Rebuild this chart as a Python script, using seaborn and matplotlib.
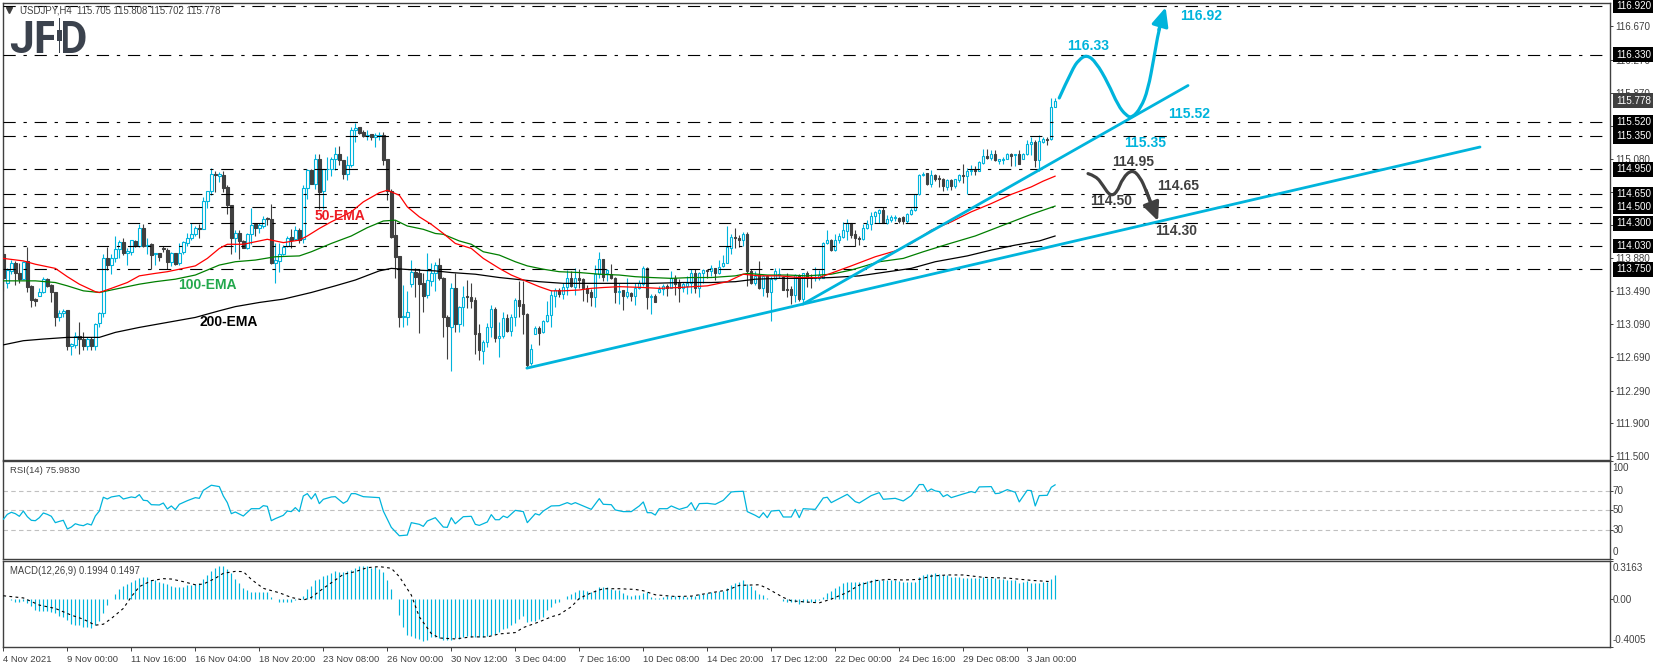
import numpy as np
import matplotlib
matplotlib.use('Agg')
import matplotlib.pyplot as plt
from matplotlib.path import Path
from matplotlib.patches import PathPatch, Rectangle
import seaborn as sns

sns.set_style('white')
plt.rcParams['font.family'] = ['Liberation Sans', 'DejaVu Sans']

CYAN = '#00b4dc'
DARK = '#404040'

# USDJPY H4 candles, one value per bar
opens = [
    113.93,113.59,113.73,113.82,113.70,113.63,113.85,113.55,113.39,113.43,
    113.47,113.63,113.56,113.47,113.18,113.22,113.26,112.83,112.84,112.95,
    112.91,112.83,112.91,112.83,113.10,113.22,113.89,113.80,113.89,113.99,
    114.08,113.95,113.96,114.09,114.03,114.25,114.03,114.05,113.93,113.95,
    114.00,113.98,113.84,113.94,113.82,113.96,114.07,114.12,114.17,114.25,
    114.23,114.57,114.69,114.89,114.87,114.88,114.74,114.52,114.12,114.18,
    114.09,114.01,114.17,114.29,114.25,114.27,114.37,114.35,113.83,113.85,
    113.93,114.03,114.14,114.11,114.22,114.11,114.73,114.94,114.78,115.07,
    114.69,114.95,114.96,115.07,115.14,115.06,114.89,115.00,115.43,115.46,
    115.40,115.35,115.38,115.34,115.35,115.36,115.07,114.69,114.16,113.91,
    113.17,113.18,113.57,113.72,113.70,113.58,113.44,113.61,113.70,113.80,
    113.65,113.17,113.06,113.52,113.09,113.29,113.43,113.42,113.38,112.98,
    112.77,112.87,113.05,113.27,112.92,112.95,113.16,113.01,113.18,113.38,
    113.33,113.21,112.62,112.97,113.04,112.99,113.13,113.20,113.43,113.50,
    113.45,113.54,113.64,113.54,113.65,113.63,113.52,113.47,113.41,113.69,
    113.87,113.71,113.69,113.65,113.48,113.50,113.43,113.46,113.43,113.52,
    113.57,113.77,113.41,113.43,113.47,113.51,113.55,113.53,113.64,113.58,
    113.52,113.55,113.58,113.70,113.53,113.70,113.74,113.73,113.76,113.71,
    113.79,113.83,114.01,114.14,114.12,114.10,114.17,113.73,113.59,113.68,
    113.52,113.67,113.47,113.63,113.68,113.66,113.51,113.51,113.44,113.68,
    113.39,113.70,113.66,113.65,113.65,113.65,114.07,114.10,113.98,114.10,
    114.14,114.21,114.30,114.17,114.12,114.11,114.24,114.29,114.39,114.43,
    114.46,114.31,114.34,114.37,114.37,114.38,114.33,114.41,114.46,114.65,
    114.88,114.91,114.77,114.88,114.85,114.84,114.74,114.82,114.75,114.82,
    114.88,114.87,114.93,114.94,114.93,115.03,115.11,115.09,115.14,115.05,
    115.06,115.08,115.14,115.12,115.14,115.08,115.13,115.26,115.28,115.06,
    115.28,115.32,115.32,115.705]
highs = [
    114.02,113.76,113.86,113.85,113.82,113.85,114.02,113.56,113.40,113.52,
    113.66,113.65,113.57,113.48,113.26,113.27,113.26,112.86,113.00,113.11,
    113.00,112.94,112.93,113.10,113.23,113.93,114.02,113.93,114.15,114.10,
    114.13,114.00,114.10,114.10,114.29,114.29,114.12,114.06,113.95,113.95,
    114.03,114.01,113.96,113.95,114.06,114.09,114.18,114.30,114.27,114.29,
    114.62,114.69,114.97,114.93,114.92,114.93,114.76,114.52,114.22,114.22,
    114.10,114.19,114.49,114.31,114.30,114.39,114.38,114.53,114.06,114.06,
    114.04,114.15,114.23,114.27,114.25,114.76,114.95,114.95,115.14,115.14,
    114.96,115.10,115.10,115.22,115.23,115.06,115.11,115.46,115.51,115.46,
    115.43,115.42,115.38,115.39,115.40,115.40,115.07,114.71,114.34,113.91,
    113.56,113.49,113.86,113.76,113.75,113.70,113.95,113.82,113.84,113.88,
    113.66,113.20,113.59,113.71,113.31,113.55,113.62,113.58,113.42,113.09,
    112.90,113.10,113.32,113.29,113.12,113.23,113.21,113.21,113.40,113.61,
    113.61,113.22,112.85,113.07,113.07,113.14,113.37,113.50,113.53,113.52,
    113.58,113.74,113.73,113.76,113.75,113.65,113.56,113.51,113.80,113.96,
    113.87,113.75,113.81,113.66,113.59,113.50,113.65,113.47,113.58,113.62,
    113.79,113.78,113.45,113.45,113.55,113.57,113.57,113.73,113.68,113.63,
    113.60,113.67,113.75,113.75,113.72,113.75,113.75,113.80,113.77,113.86,
    113.92,114.27,114.17,114.25,114.16,114.20,114.20,113.75,113.73,113.85,
    113.68,113.68,113.67,113.76,113.76,113.67,113.70,113.55,113.69,113.69,
    113.71,113.73,113.69,113.78,113.74,114.08,114.22,114.11,114.17,114.19,
    114.32,114.36,114.31,114.22,114.15,114.29,114.34,114.44,114.45,114.47,
    114.50,114.40,114.40,114.40,114.38,114.39,114.43,114.49,114.66,114.89,
    114.92,114.91,114.94,114.89,114.88,114.85,114.84,114.83,114.84,114.90,
    115.02,114.97,115.00,114.99,115.05,115.20,115.20,115.18,115.18,115.08,
    115.10,115.15,115.15,115.14,115.19,115.15,115.30,115.34,115.31,115.36,
    115.34,115.34,115.81,115.808]
lows = [
    113.49,113.53,113.69,113.56,113.59,113.63,113.48,113.29,113.31,113.43,
    113.46,113.54,113.35,113.07,113.13,113.17,112.78,112.72,112.80,112.73,
    112.78,112.78,112.78,112.78,113.06,113.18,113.74,113.69,113.84,113.88,
    113.92,113.80,113.92,114.02,114.02,114.02,113.93,113.75,113.80,113.85,
    113.96,113.75,113.79,113.80,113.80,113.93,114.03,114.10,114.15,114.12,
    114.23,114.49,114.64,114.68,114.80,114.68,114.42,113.93,113.96,113.87,
    114.00,113.99,114.05,114.15,114.18,114.24,114.28,113.81,113.58,113.72,
    113.92,114.02,114.00,114.10,114.06,114.06,114.60,114.78,114.72,114.48,
    114.48,114.82,114.87,114.94,115.00,114.84,114.82,114.98,115.28,115.38,
    115.34,115.30,115.30,115.22,115.31,115.00,114.58,114.12,113.64,113.06,
    113.05,113.08,113.54,113.42,112.98,113.23,113.40,113.55,113.49,113.62,
    112.94,112.67,112.52,112.99,113.00,113.07,113.28,113.28,112.73,112.66,
    112.61,112.81,112.94,112.87,112.70,112.92,112.99,112.95,113.07,113.18,
    112.97,112.56,112.60,112.97,112.84,112.98,113.12,113.06,113.30,113.42,
    113.39,113.44,113.54,113.44,113.52,113.37,113.35,113.31,113.30,113.64,
    113.61,113.61,113.63,113.34,113.33,113.26,113.40,113.37,113.32,113.51,
    113.55,113.27,113.21,113.35,113.46,113.44,113.43,113.53,113.44,113.35,
    113.47,113.45,113.46,113.46,113.42,113.59,113.64,113.67,113.62,113.69,
    113.78,113.82,113.93,114.00,114.02,114.03,113.55,113.57,113.56,113.51,
    113.43,113.41,113.13,113.62,113.65,113.50,113.42,113.33,113.36,113.37,
    113.34,113.54,113.53,113.61,113.62,113.65,114.05,113.97,113.97,114.07,
    114.13,114.10,114.13,114.03,114.04,114.10,114.23,114.22,114.31,114.31,
    114.30,114.29,114.32,114.33,114.31,114.29,114.30,114.40,114.45,114.64,
    114.87,114.76,114.74,114.81,114.74,114.69,114.70,114.70,114.73,114.80,
    114.79,114.65,114.88,114.88,114.93,115.02,115.08,115.06,115.05,115.01,
    115.01,115.07,114.99,114.99,115.02,115.07,115.12,115.12,114.98,114.93,
    115.27,115.24,115.31,115.702]
closes = [
    113.64,113.74,113.82,113.70,113.63,113.84,113.54,113.38,113.37,113.47,
    113.63,113.55,113.47,113.18,113.22,113.25,112.83,112.85,112.95,112.91,
    112.83,112.91,112.83,113.09,113.22,113.89,113.80,113.89,113.99,114.08,
    113.95,113.97,114.10,114.03,114.25,114.03,114.04,113.92,113.95,113.90,
    113.99,113.84,113.94,113.81,113.95,114.08,114.12,114.17,114.25,114.23,
    114.57,114.69,114.89,114.88,114.89,114.73,114.52,114.12,114.18,114.09,
    114.01,114.17,114.28,114.25,114.28,114.36,114.35,113.82,113.86,113.93,
    114.02,114.13,114.10,114.22,114.10,114.73,114.94,114.78,115.07,114.68,
    114.95,114.96,115.07,115.13,115.06,114.89,115.00,115.43,115.45,115.39,
    115.35,115.37,115.34,115.36,115.36,115.06,114.69,114.14,113.90,113.18,
    113.19,113.24,113.72,113.66,113.57,113.43,113.62,113.70,113.80,113.65,
    113.17,113.07,113.52,113.09,113.29,113.42,113.42,113.37,112.97,112.78,
    112.88,113.05,113.27,112.92,112.95,113.16,113.01,113.18,113.38,113.31,
    113.21,112.60,112.79,113.04,112.98,113.13,113.20,113.44,113.50,113.45,
    113.54,113.64,113.55,113.65,113.62,113.52,113.46,113.41,113.69,113.87,
    113.66,113.74,113.64,113.47,113.49,113.43,113.47,113.43,113.53,113.58,
    113.76,113.41,113.43,113.36,113.51,113.55,113.52,113.64,113.57,113.52,
    113.57,113.59,113.70,113.53,113.71,113.74,113.73,113.76,113.70,113.78,
    113.83,114.02,114.14,114.12,114.10,114.17,113.73,113.59,113.67,113.52,
    113.67,113.47,113.63,113.73,113.69,113.50,113.50,113.44,113.68,113.39,
    113.70,113.65,113.65,113.66,113.68,114.07,114.10,113.98,114.10,114.15,
    114.22,114.30,114.16,114.12,114.11,114.24,114.29,114.39,114.44,114.46,
    114.31,114.35,114.38,114.38,114.33,114.33,114.42,114.46,114.65,114.88,
    114.90,114.77,114.88,114.83,114.84,114.75,114.82,114.75,114.83,114.88,
    114.87,114.93,114.94,114.93,115.04,115.11,115.09,115.14,115.06,115.07,
    115.08,115.14,115.11,115.14,115.02,115.14,115.26,115.28,115.06,115.29,
    115.32,115.31,115.70,115.778]

# moving averages, read at the bars where they bend
ema50_bars = [0,5,8,13,16,19,23,24,27,31,34,38,41,44,48,51,54,56,60,63,66,70,74,76,79,82,87,90,94,96,99,101,104,107,110,113,117,120,124,127,130,134,137,140,144,147,150,154,160,164,169,176,181,185,189,194,199,204,208,212,218,223,227,232,237,242,247,252,257,260,263]
ema50_vals = [113.88,113.85,113.81,113.76,113.66,113.57,113.48,113.47,113.52,113.59,113.67,113.70,113.72,113.75,113.79,113.88,114.00,114.05,114.05,114.08,114.11,114.07,114.10,114.15,114.24,114.32,114.44,114.56,114.67,114.70,114.64,114.50,114.38,114.29,114.18,114.06,114.00,113.88,113.76,113.68,113.62,113.54,113.49,113.49,113.50,113.52,113.53,113.54,113.53,113.52,113.53,113.55,113.60,113.69,113.67,113.67,113.65,113.65,113.72,113.79,113.90,113.97,114.06,114.22,114.32,114.44,114.54,114.65,114.74,114.81,114.87]
ema100_bars = [0,3,8,13,16,20,24,28,31,34,38,43,48,51,54,58,63,68,74,77,82,87,91,95,98,101,105,108,110,114,117,120,124,128,131,135,139,144,149,154,158,162,167,172,177,183,186,191,196,201,207,212,219,225,230,236,243,250,257,263]
ema100_vals = [113.61,113.61,113.61,113.59,113.55,113.49,113.47,113.51,113.54,113.57,113.60,113.63,113.68,113.74,113.80,113.84,113.86,113.90,113.91,113.96,114.06,114.15,114.25,114.33,114.34,114.27,114.23,114.18,114.17,114.09,114.05,113.96,113.92,113.84,113.79,113.75,113.72,113.71,113.69,113.68,113.66,113.65,113.64,113.65,113.65,113.67,113.70,113.68,113.68,113.67,113.69,113.74,113.84,113.88,113.96,114.05,114.15,114.28,114.41,114.51]
ema200_bars = [0,5,10,16,24,28,34,41,48,54,58,64,70,77,83,88,94,97,103,108,112,118,124,130,134,140,149,162,170,177,183,188,194,201,207,214,227,233,241,247,253,259,263]
ema200_vals = [112.84,112.89,112.91,112.93,112.93,112.99,113.05,113.11,113.17,113.25,113.30,113.35,113.39,113.47,113.55,113.62,113.73,113.76,113.74,113.73,113.71,113.69,113.65,113.62,113.60,113.58,113.58,113.58,113.59,113.59,113.60,113.63,113.64,113.64,113.65,113.67,113.76,113.84,113.91,113.98,114.04,114.09,114.15]

rsi_bars = [0,1,2,3,4,5,6,7,8,9,10,11,12,13,14,15,16,17,18,19,20,21,22,23,24,25,26,27,29,30,32,33,34,35,36,37,39,40,41,42,43,44,46,48,49,50,52,54,55,56,57,58,60,62,64,65,66,67,68,70,71,72,73,74,75,76,77,78,79,80,82,83,85,86,87,88,90,94,95,97,99,101,102,104,105,106,108,110,111,112,113,115,117,118,119,121,122,123,124,125,126,128,130,131,133,134,
            135,137,139,141,142,143,145,147,149,150,152,153,155,157,159,160,161,162,163,164,166,167,169,171,172,173,174,176,178,180,182,183,185,186,188,189,190,191,192,194,195,197,198,199,200,203,205,206,207,211,213,214,217,219,220,223,225,227,229,230,231,232,233,234,235,236,237,240,242,243,244,247,248,249,251,253,254,256,257,258,259,261,262,263]
rsi_vals = [40.6,45.7,47.8,46.4,43.7,49.1,43.3,39.6,39.2,42.3,47.1,45.7,43.7,37.2,38.5,39.6,30.7,32.7,36.1,34.8,34.1,36.1,34.8,44.0,49.1,63.2,61.4,63.5,64.9,61.4,63.5,62.8,65.9,60.1,59.7,55.6,55.3,57.3,51.2,54.3,50.5,56.0,59.7,62.8,62.1,70.3,75.5,74.1,64.5,57.7,46.4,48.1,44.0,51.5,51.5,54.6,53.9,39.2,41.3,44.7,49.1,48.5,52.6,48.5,64.5,66.9,61.4,66.9,56.7,61.1,63.5,63.8,57.0,59.4,66.9,66.9,63.8,62.8,49.1,32.4,23.8,24.5,37.2,35.5,33.4,38.9,42.3,32.7,32.4,42.3,36.1,43.3,43.7,35.5,34.4,37.9,45.4,40.2,40.2,44.0,42.3,49.8,48.5,37.2,46.4,45.0,
            49.1,54.3,54.6,57.7,56.0,57.7,54.3,50.8,61.8,56.0,55.6,50.2,48.5,48.5,54.3,58.4,47.4,47.4,45.0,51.5,51.5,54.3,50.8,53.2,57.7,49.8,56.7,57.0,56.0,60.1,68.6,69.0,69.3,48.5,44.7,42.3,47.4,42.3,49.1,49.8,43.0,43.0,50.8,42.3,51.5,50.8,62.5,63.2,57.7,66.2,58.7,57.3,64.9,67.9,61.1,62.1,59.4,64.9,76.2,76.2,69.0,71.7,69.7,69.0,63.8,65.9,62.8,66.6,69.0,67.9,73.8,74.1,66.9,67.3,71.0,68.3,58.4,70.3,70.0,54.3,64.9,65.2,73.4,75.98]

macd_hist = [
    .025,0,-.011,-.022,-.028,-.017,-.036,-.059,-.087,-.098,
    -.098,-.098,-.104,-.115,-.140,-.148,-.176,-.207,-.213,-.216,
    -.232,-.235,-.238,-.213,-.185,-.115,-.053,0,.039,.081,
    .112,.123,.146,.160,.179,.182,.182,.160,.160,.146,
    .137,.123,.112,.098,.101,.104,.115,.118,.123,.137,
    .165,.199,.238,.258,.274,.277,.255,.221,.165,.132,
    .090,.076,.062,.059,.059,.059,.059,.014,0,-.022,
    -.028,-.028,-.025,-.008,0,.025,.081,.112,.157,.165,
    .193,.202,.221,.232,.230,.227,.238,.244,.263,.280,
    .280,.280,.263,.266,.249,.227,.160,.081,0,-.129,
    -.232,-.297,-.311,-.325,-.330,-.353,-.344,-.319,-.314,-.322,
    -.339,-.344,-.339,-.328,-.330,-.319,-.311,-.314,-.316,-.319,
    -.319,-.311,-.300,-.288,-.277,-.252,-.244,-.216,-.196,-.168,
    -.140,-.190,-.185,-.182,-.168,-.146,-.092,-.070,-.036,-.022,
    0,.025,.042,.059,.073,.073,.067,.056,.076,.098,
    .098,.098,.087,.078,.073,.053,.034,.028,.034,.036,
    .048,.056,.017,.011,.011,.017,.025,.022,.025,.025,
    .022,.020,.028,.025,.039,.042,.050,.056,.059,.067,
    .070,.090,.120,.132,.143,.157,.123,.109,.076,.039,
    .036,.006,0,0,0,-.017,-.020,-.028,-.025,-.045,
    -.028,-.022,-.022,-.020,-.008,.020,.050,.067,.092,.112,
    .137,.140,.140,.140,.143,.140,.148,.157,.165,.160,
    .160,.160,.157,.157,.154,.143,.143,.146,.146,.182,
    .199,.210,.213,.216,.210,.199,.199,.188,.182,.182,
    .176,.174,.176,.176,.176,.182,.176,.176,.174,.168,
    .165,.162,.160,.157,.137,.143,.154,.137,.134,.137,
    .143,.143,.171,.199]
signal_bars = [0,5,9,13,17,20,23,25,27,30,32,34,37,40,42,45,48,50,53,55,58,60,62,65,69,72,75,77,80,83,85,88,91,94,97,99,102,104,107,109,113,117,121,124,128,130,134,137,139,142,144,147,150,154,158,160,163,168,172,176,181,184,189,191,195,197,201,204,207,211,214,218,221,225,229,232,236,240,245,251,257,262]
signal_vals = [.028,.010,-.050,-.078,-.134,-.168,-.218,-.210,-.162,-.078,.020,.104,.154,.171,.168,.146,.120,.126,.174,.216,.232,.230,.165,.090,.053,.014,-.008,.014,.090,.160,.207,.230,.263,.272,.258,.188,.034,-.148,-.288,-.325,-.333,-.316,-.316,-.291,-.280,-.238,-.190,-.148,-.129,-.064,.006,.053,.087,.087,.081,.070,.036,.022,.025,.048,.076,.115,.120,.090,.014,-.014,-.025,-.031,0,.056,.118,.154,.165,.160,.165,.193,.202,.202,.182,.176,.157,.146]

# horizontal levels and price scale
level_prices = [116.92,116.33,115.52,115.35,114.95,114.65,114.50,114.30,114.03,113.75]
scale_prices = [116.67,116.27,115.87,115.47,115.08,114.68,114.28,113.88,113.49,113.09,112.69,112.29,111.90,111.50]
last_price = 115.778

# trend lines
trend_low_bars = [130.9,369.2]
trend_low_vals = [112.56,115.22]
trend_up_bars = [199.9,296.2]
trend_up_vals = [113.33,115.96]

# projected paths drawn on the chart
up_path_bars = [264,267.2,268.9,270.9,273.2,276.2,278.7,280.7,282.2,284.4,286.2,287.7,288.9,289.9]
up_path_vals = [115.81,116.15,116.27,116.33,116.24,115.99,115.72,115.60,115.57,115.69,115.91,116.30,116.63,116.78]
up_tip = (290.6,116.90)
down_path_bars = [271.2,273.2,274.9,276.7,278.4,279.9,282.2,284.2,285.7,287.2]
down_path_vals = [114.90,114.87,114.76,114.63,114.67,114.85,114.95,114.86,114.70,114.50]
down_tip = (288.7,114.33)

time_labels = ['4 Nov 2021','9 Nov 00:00','11 Nov 16:00','16 Nov 04:00','18 Nov 20:00','23 Nov 08:00',
               '26 Nov 00:00','30 Nov 12:00','3 Dec 04:00','7 Dec 16:00','10 Dec 08:00','14 Dec 20:00',
               '17 Dec 12:00','22 Dec 00:00','24 Dec 16:00','29 Dec 08:00','3 Jan 00:00']

W, H = 1655, 668
fig = plt.figure(figsize=(W / 100, H / 100), dpi=100, facecolor='white')


def panel(top, bottom):
    # panels are laid out in pixels, same as the terminal window
    ax = fig.add_axes([2.5 / W, 1 - bottom / H, (1610 - 2.5) / W, (bottom - top) / H])
    ax.set_xlim(-0.21, 401.7)
    for s in ax.spines.values():
        s.set_color(DARK)
        s.set_linewidth(1.0)
    ax.yaxis.tick_right()
    ax.tick_params(axis='y', which='major', right=True, left=False, length=2.2, width=0.7,
                   color=DARK, labelcolor=DARK, labelsize=7.1, pad=1.8)
    ax.set_xticks([])
    return ax


def smooth_path(ax, xs, ys, color):
    # quadratic curve through the midpoints, the hand drawn paths have no corners
    verts = [(xs[0], ys[0])]
    codes = [Path.MOVETO]
    for i in range(1, len(xs) - 1):
        verts += [(xs[i], ys[i]), ((xs[i] + xs[i + 1]) / 2, (ys[i] + ys[i + 1]) / 2)]
        codes += [Path.CURVE3, Path.CURVE3]
    verts.append((xs[-1], ys[-1]))
    codes.append(Path.LINETO)
    ax.add_patch(PathPatch(Path(verts, codes), facecolor='none', edgecolor=color, lw=2.3, capstyle='round', zorder=6))


ax = panel(2.7, 460)
ax_rsi = panel(461.3, 559)
ax_macd = panel(561.3, 647)

# candles
bars = np.arange(len(closes))
opens, highs, lows, closes = map(np.array, (opens, highs, lows, closes))
up = closes >= opens
ax.vlines(bars[up], lows[up], highs[up], color=CYAN, lw=0.8, zorder=2)
ax.vlines(bars[~up], lows[~up], highs[~up], color=DARK, lw=0.8, zorder=2)
ax.bar(bars[up], (closes - opens)[up], bottom=opens[up], width=0.6, facecolor='white',
       edgecolor=CYAN, linewidth=0.8, zorder=3)
ax.bar(bars[~up], (closes - opens)[~up], bottom=opens[~up], width=0.6, facecolor=DARK,
       edgecolor=DARK, linewidth=0.8, zorder=3)

# levels
for p in level_prices:
    ax.axhline(p, color='black', lw=0.8, linestyle=(0, (11, 7, 3, 7)), zorder=4)

# moving averages
sns.lineplot(x=ema200_bars, y=ema200_vals, ax=ax, color='black', lw=0.9, sort=False, estimator=None, zorder=5)
sns.lineplot(x=ema100_bars, y=ema100_vals, ax=ax, color='#007f00', lw=0.9, sort=False, estimator=None, zorder=5)
sns.lineplot(x=ema50_bars, y=ema50_vals, ax=ax, color='#ff0000', lw=0.9, sort=False, estimator=None, zorder=5)

# trend lines and projected paths
sns.lineplot(x=trend_low_bars, y=trend_low_vals, ax=ax, color=CYAN, lw=2.0, sort=False, estimator=None, zorder=6)
sns.lineplot(x=trend_up_bars, y=trend_up_vals, ax=ax, color=CYAN, lw=2.0, sort=False, estimator=None, zorder=6)
smooth_path(ax, up_path_bars, up_path_vals, CYAN)
smooth_path(ax, down_path_bars, down_path_vals, DARK)
ax.annotate('', xy=up_tip, xytext=(up_path_bars[-2], up_path_vals[-2]), zorder=6,
            arrowprops=dict(arrowstyle='-|>,head_length=0.62,head_width=0.28', color=CYAN, lw=2.3,
                            mutation_scale=18, shrinkA=0, shrinkB=0))
ax.annotate('', xy=down_tip, xytext=(down_path_bars[-2], down_path_vals[-2]), zorder=6,
            arrowprops=dict(arrowstyle='-|>,head_length=0.62,head_width=0.28', color=DARK, lw=2.3,
                            mutation_scale=18, shrinkA=0, shrinkB=0))

ax.set_ylim(111.455, 116.956)
ax.set(xlabel=None, ylabel=None)
ax.set_yticks(scale_prices)
ax.set_yticklabels(['%.3f' % p for p in scale_prices])

# labels on the chart
for (k, p, s, c) in [(299.5, 116.80, '116.92', CYAN), (271.2, 116.43, '116.33', CYAN),
                     (296.4, 115.62, '115.52', CYAN), (285.4, 115.27, '115.35', CYAN),
                     (282.4, 115.04, '114.95', DARK), (293.7, 114.75, '114.65', DARK),
                     (276.9, 114.57, '114.50', DARK), (293.2, 114.21, '114.30', DARK),
                     (84.2, 114.39, '50-EMA', '#ed1c24'), (50.9, 113.56, '100-EMA', '#22a84c'),
                     (56.4, 113.11, '200-EMA', 'black')]:
    ax.text(k, p, s, color=c, fontsize=10, fontweight='bold', ha='center', va='center', zorder=8)

# boxed level prices on the scale
trans = ax.get_yaxis_transform()
for p in level_prices:
    ax.text(1.0036, p, '%.3f' % p, transform=trans, color='white', fontsize=7.1, va='center', ha='left',
            zorder=9, clip_on=False, bbox=dict(facecolor='black', edgecolor='none', pad=1.7))
ax.text(1.0036, last_price, '%.3f' % last_price, transform=trans, color='white', fontsize=7.1, va='center',
        ha='left', zorder=9, clip_on=False, bbox=dict(facecolor=DARK, edgecolor='none', pad=1.7))

# header and logo
ax.plot(0.0043, 0.9835, marker='v', ms=4.5, color=DARK, transform=ax.transAxes)
ax.text(18 / 1607.5, 0.9835, 'USDJPY,H4  115.705 115.808 115.702 115.778', transform=ax.transAxes,
        fontsize=6.9, color=DARK, va='center', ha='left', zorder=9)
fig.text(9 / W, 1 - 53 / H, 'JFD', family='Roboto', fontweight='bold', fontsize=32, color='#3b424d',
         va='baseline', ha='left', zorder=10)
# candle inside the logo, between the F and the bowl of the D
for (x0, y0, w, h, c) in [(54.5, 16, 8.5, 38, 'white'), (58.5, 18, 1, 35, '#3b424d'), (56.5, 30, 5, 11, '#3b424d')]:
    fig.add_artist(Rectangle((x0 / W, 1 - (y0 + h) / H), w / W, h / H, transform=fig.transFigure,
                             facecolor=c, edgecolor='none', zorder=11))

# RSI panel
for lvl in [70, 50, 30]:
    ax_rsi.axhline(lvl, color='#c0c0c0', lw=0.8, linestyle=(0, (4, 3)), zorder=1)
sns.lineplot(x=rsi_bars, y=rsi_vals, ax=ax_rsi, color=CYAN, lw=0.9, sort=False, estimator=None, zorder=3)
ax_rsi.set_ylim(0, 100)
ax_rsi.set(xlabel=None, ylabel=None)
ax_rsi.set_yticks([100, 70, 50, 30, 0])
ax_rsi.set_yticklabels([])
t_rsi = ax_rsi.transAxes
for y, s in [(0.93, '100'), (0.70, '70'), (0.50, '50'), (0.30, '30'), (0.07, '0')]:
    ax_rsi.text(1.0017, y, s, transform=t_rsi, fontsize=7.1, color=DARK, va='center', ha='left')
ax_rsi.text(7 / 1607.5, 0.905, 'RSI(14) 75.9830', transform=t_rsi, fontsize=6.8, color=DARK, va='center', ha='left')

# MACD panel
ax_macd.vlines(bars, 0, macd_hist, color=CYAN, lw=0.85, zorder=2)
sns.lineplot(x=signal_bars, y=signal_vals, ax=ax_macd, color='black', lw=0.8, linestyle=(0, (2.5, 3)),
             sort=False, estimator=None, zorder=3)
ax_macd.set_ylim(-0.4005, 0.3163)
ax_macd.set(xlabel=None, ylabel=None)
ax_macd.set_yticks([0.3163, 0.0, -0.4005])
ax_macd.set_yticklabels([])
t_macd = ax_macd.transAxes
for y, s in [(0.925, '0.3163'), (0.55, '0.00'), (0.08, '-0.4005')]:
    ax_macd.text(1.0017, y, s, transform=t_macd, fontsize=7.1, color=DARK, va='center', ha='left')
ax_macd.text(7 / 1607.5, 0.885, 'MACD(12,26,9) 0.1994 0.1497', transform=t_macd, fontsize=6.85, color=DARK,
             va='center', ha='left')

# time axis
ax_macd.set_xticks(np.arange(len(time_labels)) * 16)
ax_macd.set_xticklabels(time_labels, ha='left', fontsize=6.8, color=DARK)
ax_macd.tick_params(axis='x', bottom=True, length=2.6, width=0.7, color=DARK, pad=3.2)

fig.savefig('out.png', dpi=100, facecolor='white')
